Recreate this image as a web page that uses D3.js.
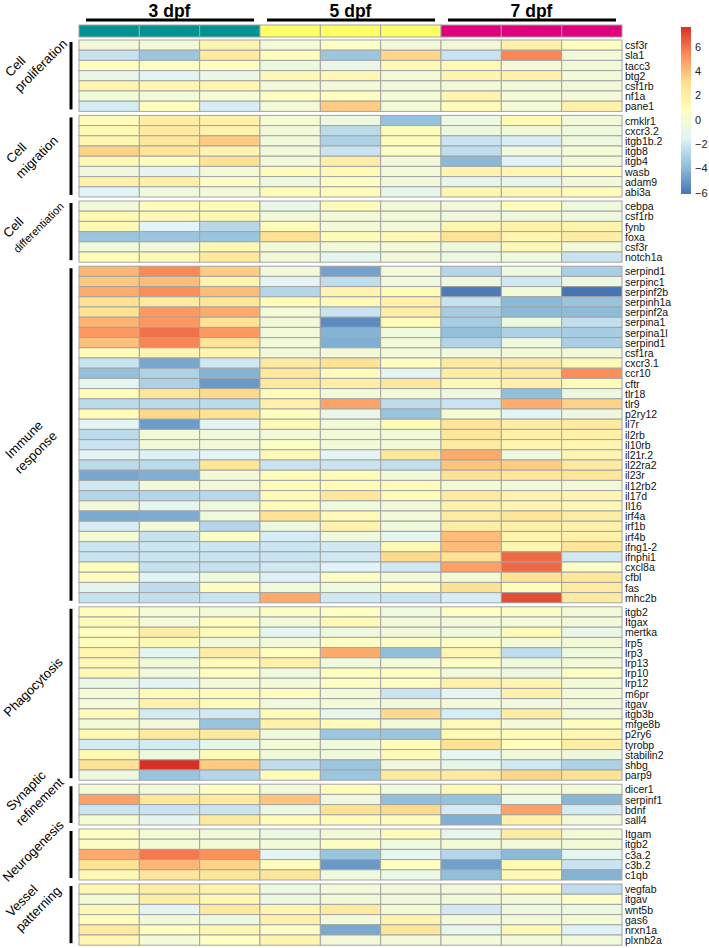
<!DOCTYPE html>
<html>
<head>
<meta charset="utf-8">
<script src="https://cdn.jsdelivr.net/npm/d3@7/dist/d3.min.js"></script>
<style>
  html, body { margin: 0; padding: 0; background: #fff; }
  svg { display: block; font-family: "Liberation Sans", Arial, sans-serif; }
</style>
</head>
<body>
<svg id="chart"></svg>
<script>
// ── Data ──────────────────────────────────────────────────────────────────────
// Columns: three replicates per stage. Values are row z-scores.
const stages  = ['3 dpf', '5 dpf', '7 dpf'];
const samples = ['3dpf_1', '3dpf_2', '3dpf_3', '5dpf_1', '5dpf_2', '5dpf_3', '7dpf_1', '7dpf_2', '7dpf_3'];
const sampleStage = ['3 dpf', '3 dpf', '3 dpf', '5 dpf', '5 dpf', '5 dpf', '7 dpf', '7 dpf', '7 dpf'];

const groupLabels = [
  ['Cell', 'proliferation'],
  ['Cell', 'migration'],
  ['Cell', 'differentiation'],
  ['Immune', 'response'],
  ['Phagocytosis'],
  ['Synaptic', 'refinement'],
  ['Neurogenesis'],
  ['Vessel', 'patterning'],
];

const proliferation = [
  ['csf3r',  [-0.3, -0.3,  1.5, -0.2,  0.5, -0.3, -0.3,  1.8,  0.7]],
  ['sla1',   [-2.3, -3.5,  2.3,  0.8, -3.5,  3.3, -2.2,  5.5, -0.3]],
  ['tacc3',  [ 0.8,  0.6,  0.8, -0.6, -0.9,  1.2,  1.2, -0.2, -0.2]],
  ['btg2',   [-0.9, -1.3, -0.9,  1.3,  1.3, -0.2,  1.5,  1.8, -0.2]],
  ['csf1rb', [ 1.6,  1.4,  1.5, -0.3, -0.3, -0.3, -0.3, -0.3, -0.3]],
  ['nf1a',   [-0.2, -0.2,  0.0,  0.7,  0.8, -0.1,  1.6, -0.2, -0.2]],
  ['pane1',  [-1.9,  0.8, -1.8, -0.2,  3.6, -0.2,  1.0, -0.2,  1.8]],
];

const migration = [
  ['cmklr1',   [ 1.0,  2.0,  1.8,  0.0, -0.5, -3.7, -0.6,  1.2, -0.3]],
  ['cxcr3.2',  [ 1.2,  2.2,  1.7, -0.3, -2.6,  1.0, -0.5, -0.3, -0.4]],
  ['itgb1b.2', [ 1.4,  2.5,  3.6, -0.3, -3.0,  1.0, -2.2, -1.8, -0.5]],
  ['itgb8',    [ 3.4,  2.6,  1.5, -0.3, -2.2,  0.6, -2.5, -0.4, -0.1]],
  ['itgb4',    [ 1.3,  0.8,  2.8, -0.3,  2.0, -0.3, -4.0, -1.5, -0.3]],
  ['wasb',     [-0.5, -1.2, -0.3,  1.0,  1.2, -0.2,  1.5,  1.4,  0.8]],
  ['adam9',    [ 1.8,  1.9,  0.5, -0.5,  0.6, -0.3, -1.0, -1.0, -0.3]],
  ['abi3a',    [-1.5, -0.4, -0.2,  1.0,  1.0, -1.0,  1.4,  1.4,  1.0]],
];

const differentiation = [
  ['cebpa',   [-0.2,  0.8,  1.0, -0.9,  1.0, -0.3, -0.3,  0.9, -0.4]],
  ['csf1rb',  [ 1.2,  1.2,  1.3, -0.3, -0.3, -0.3, -0.5, -0.5, -0.5]],
  ['fynb',    [ 1.2, -1.4, -2.7,  1.0, -0.2, -0.3,  1.5,  1.8,  1.6]],
  ['foxa',    [-3.5, -3.5, -3.6,  2.9,  1.0,  1.3,  2.8,  1.5,  2.0]],
  ['csf3r',   [-0.3, -0.3,  1.3, -0.2, -0.2, -0.2, -0.5,  1.2, -0.2]],
  ['notch1a', [ 1.0,  1.2,  2.4, -0.3, -1.2, -0.3, -0.5, -0.4, -2.2]],
];

const immune = [
  ['serpind1',  [ 4.2,  5.4,  3.6, -0.3, -4.7, -0.2, -2.8, -0.6, -3.1]],
  ['serpinc1',  [ 3.7,  4.0,  1.6, -1.3, -2.5, -0.4, -0.6, -2.0, -0.6]],
  ['serpinf2b', [ 4.5,  5.3,  4.0, -2.8,  1.5,  1.0, -5.9, -0.3, -6.1]],
  ['serpinh1a', [ 2.8,  2.2,  2.6,  1.0,  1.2,  1.8, -2.3, -4.0, -3.6]],
  ['serpinf2a', [ 2.8,  5.0,  4.5, -0.2, -2.2,  2.0, -3.2, -4.0, -3.9]],
  ['serpina1',  [ 4.3,  5.0,  2.8, -0.3, -5.4,  1.0, -3.2, -0.6, -2.4]],
  ['serpina1l', [ 5.0,  6.0,  5.0, -0.3, -4.2, -0.4, -3.8, -3.0, -3.2]],
  ['serpind1',  [ 3.9,  5.5,  2.8, -0.3, -4.3, -0.3, -2.9, -0.5, -3.1]],
  ['csf1ra',    [ 1.0,  1.5,  1.5, -0.3, -0.3, -0.3, -0.4, -0.3, -0.3]],
  ['cxcr3.1',   [-2.2, -4.6, -2.0,  2.2,  2.8,  0.8,  2.2,  2.2,  1.2]],
  ['ccr10',     [-3.8, -3.0, -4.2,  2.4,  1.0, -1.2,  2.0,  2.3,  5.3]],
  ['cftr',      [-1.2, -3.0, -5.0,  2.4,  2.0,  2.5,  1.2,  1.8,  1.0]],
  ['tlr18',     [ 1.0,  2.6,  3.2,  1.0, -0.3, -0.2, -0.5, -3.8, -0.5]],
  ['tlr9',      [-2.6, -2.6, -2.6,  1.8,  4.7, -2.5, -2.2,  4.4,  3.4]],
  ['p2ry12',    [ 1.0,  3.2,  2.8,  0.8, -0.9, -3.6,  0.0, -1.4, -0.5]],
  ['il7r',      [-1.3, -4.9, -1.3,  1.2, -0.2,  1.0,  2.6,  2.0,  2.2]],
  ['il2rb',     [-2.6, -0.3, -0.4, -0.2, -0.3, -0.3,  2.5,  1.8,  1.8]],
  ['il10rb',    [-2.2, -0.3, -0.3,  0.5, -0.2, -0.3,  2.2,  1.5,  1.5]],
  ['il21r.2',   [-1.3, -1.6, -1.4,  1.2, -1.3,  2.5,  4.5, -0.5,  1.5]],
  ['il22ra2',   [-2.6, -2.6,  2.6, -2.2, -2.2, -2.4,  3.8,  3.6,  2.2]],
  ['il23r',     [-4.6, -4.3, -0.3,  1.0,  1.0, -0.3,  2.9,  2.5,  2.6]],
  ['il12rb2',   [-2.0, -0.3, -0.3,  1.0,  1.0,  1.0, -0.1, -0.3, -0.3]],
  ['il17d',     [-2.8, -2.8, -2.7,  1.1,  2.5,  1.0,  2.2,  1.6,  1.5]],
  ['Il16',      [-0.3, -1.2, -0.4,  1.0, -0.4, -0.3,  1.7,  1.5,  1.3]],
  ['irf4a',     [-4.5, -4.4, -0.4,  2.8,  1.2, -0.3,  2.2,  2.6,  2.0]],
  ['irf1b',     [-1.8, -0.3, -2.8, -0.5,  1.6, -0.4,  2.0,  1.8,  1.8]],
  ['irf4b',     [ 0.0, -2.3,  0.5, -1.8, -0.4, -1.1,  4.0,  1.6,  1.8]],
  ['ifng1-2',   [-2.1, -2.1, -2.1, -2.1, -2.0,  1.2,  4.0,  1.5,  2.7]],
  ['ifnphi1',   [-2.2, -2.2, -2.2, -2.2, -2.0,  3.2,  2.8,  6.2, -2.0]],
  ['cxcl8a',    [ 0.8, -2.3, -2.3, -2.0, -1.5, -2.0,  4.8,  6.2,  0.5]],
  ['cfbl',      [ 0.8, -1.5, -0.4, -1.6,  0.6, -0.3, -0.1,  2.8,  2.5]],
  ['fas',       [-1.1, -2.5,  0.8, -0.4, -0.4,  0.8,  2.9,  0.9,  2.2]],
  ['mhc2b',     [-2.3, -2.4, -2.2,  4.5, -2.0, -2.2, -1.8,  6.9,  2.2]],
];

const phagocytosis = [
  ['itgb2',     [ 0.8,  0.0, -0.1,  0.5,  0.7, -0.4,  0.7,  0.5, -0.2]],
  ['Itgax',     [ 1.1, -0.2,  0.8, -0.3,  1.2, -0.3, -0.3, -0.2, -0.3]],
  ['mertka',    [ 0.8,  2.0,  1.0, -1.2, -0.5, -0.3, -0.4,  1.0, -0.9]],
  ['lrp5',      [ 1.0,  1.3, -0.3, -0.2,  0.6,  0.5,  0.6, -0.2, -0.3]],
  ['lrp3',      [ 1.5, -1.3,  2.0,  0.8,  4.5, -3.8,  1.4, -2.5, -0.4]],
  ['lrp13',     [ 1.3, -0.3,  1.0,  1.8, -0.4, -0.2,  0.6, -0.4, -0.3]],
  ['lrp10',     [ 1.2, -0.4,  0.8, -0.4,  0.8,  0.6, -0.3, -0.5,  0.6]],
  ['lrp12',     [-0.8, -1.3, -0.2, -0.1,  0.6,  0.8,  1.8,  1.5, -0.1]],
  ['m6pr',      [ 0.0,  1.0,  1.0,  0.8, -0.3, -2.2, -1.2,  1.8, -0.2]],
  ['itgav',     [-0.2,  1.8,  1.0, -0.4, -0.2, -0.3, -0.2, -0.4, -0.3]],
  ['itgb3b',    [ 1.1, -1.9, -2.0,  1.0, -1.0,  3.2, -1.8,  2.0, -0.3]],
  ['mfge8b',    [-0.1, -0.3, -3.6,  1.8,  1.0, -0.3,  1.2, -0.2,  0.8]],
  ['p2ry6',     [ 1.2,  2.3,  2.3, -0.4, -3.5, -3.5,  1.2,  1.0,  1.3]],
  ['tyrobp',    [-1.9, -1.9, -1.0, -0.2, -0.4,  1.0,  2.8,  0.8,  2.0]],
  ['stabilin2', [ 1.2, -0.5,  1.0, -0.3, -0.4,  1.0, -1.2, -0.3, -0.5]],
  ['shbg',      [ 2.8,  7.6,  3.6, -2.5, -3.5, -0.5, -1.0, -2.0, -3.0]],
  ['parp9',     [-0.6, -3.6, -2.8,  1.0, -3.5,  2.2,  2.2,  3.3,  2.8]],
];

const synaptic = [
  ['dicer1',   [-0.1, -0.3,  0.7, -0.3,  1.0, -0.4,  1.2,  0.0, -0.2]],
  ['serpinf1', [ 4.8,  2.5,  2.4,  3.8, -0.5, -3.8, -3.7, -0.6, -4.1]],
  ['bdnf',     [-2.1, -2.2, -2.2, -0.6,  2.9,  3.2, -1.9,  4.8, -1.9]],
  ['sall4',    [ 0.0, -1.1,  2.3,  1.0,  1.0,  1.0, -4.3,  1.8, -0.3]],
];

const neurogenesis = [
  ['Itgam', [ 0.7, -0.1, -0.3, -0.6, -0.3,  1.0, -1.0,  2.0, -0.1]],
  ['itgb2', [ 0.6, -0.2, -0.1, -0.2,  0.6, -0.4, -0.1, -0.3, -0.2]],
  ['c3a.2', [ 4.5,  5.8,  5.2, -1.3, -3.6, -1.2, -2.8, -4.0, -1.2]],
  ['c3b.2', [ 2.8,  4.2,  3.4,  0.9, -5.0,  0.8, -4.8,  1.2, -2.2]],
  ['c1qb',  [ 1.2,  2.5,  2.6,  2.6, -0.4, -0.8, -3.8,  1.2, -4.2]],
];

const vessel = [
  ['vegfab',  [ 1.3,  2.0,  1.6, -0.6, -0.2, -0.3, -0.3,  1.0, -2.5]],
  ['itgav',   [-0.1,  1.9,  1.3, -0.6, -0.3, -0.3, -0.3, -0.2,  0.5]],
  ['wnt5b',   [ 1.3, -1.3,  2.4,  1.5,  2.2, -0.1, -2.0, -0.5, -0.6]],
  ['gas6',    [ 1.0, -0.3, -0.5,  1.8, -0.2,  1.6, -0.3, -0.3, -0.1]],
  ['nrxn1a',  [ 2.4,  0.8,  1.4,  0.6, -4.5,  2.6, -1.0,  1.3, -1.6]],
  ['plxnb2a', [ 1.4, -0.1,  0.7,  1.5, -0.3, -0.2, -0.2, -0.2, -0.3]],
];

const groupRows = [proliferation, migration, differentiation, immune,
                   phagocytosis, synaptic, neurogenesis, vessel];

const legendTicks = [-6, -4, -2, 0, 2, 4, 6];

// ── Styles / layout ───────────────────────────────────────────────────────────
const WIDTH = 709, HEIGHT = 948;
const X0 = 79, X1 = 622;          // heatmap left / right
const TOP = 40;                    // first row
const ROW_H = 10.2, GAP = 4;       // cell height, gap between gene sets
const BORDER = '#a4a4a4';
const RAMP = ['#4575b4', '#91bfdb', '#e0f3f8', '#ffffbf', '#fee090', '#fc8d59', '#d73027'];
const STAGE_COLORS = { '3 dpf': '#009191', '5 dpf': '#ffff66', '7 dpf': '#df007d' };
const FONT = '"Liberation Sans", Arial, sans-serif';
const LABEL_SIZE = 13, LINE_GAP = 17.5, LINE_INDENT = 4;
// the long word is set smaller so it stops short of the bracket
const LABEL_SIZE_SMALL = { differentiation: 11 };
// start of the last label line: [x, offset from the block's vertical centre]
const LABEL_ANCHOR = [[20, 17], [21, 23], [18, 22], [20, 40], [9, 24], [21, 22], [8, 28], [21, 18]];

// ── Scales ────────────────────────────────────────────────────────────────────
const allValues = groupRows.flatMap(rows => rows.flatMap(r => r[1]));
const [vmin, vmax] = d3.extent(allValues);

const color = d3.scaleLinear()
  .domain(RAMP.map((_, i) => vmin + i * (vmax - vmin) / (RAMP.length - 1)))
  .range(RAMP)
  .interpolate(d3.interpolateRgb);

const x = d3.scaleBand().domain(samples).range([X0, X1]).paddingInner(0);

const svg = d3.select('#chart')
  .attr('width', WIDTH)
  .attr('height', HEIGHT)
  .attr('viewBox', `0 0 ${WIDTH} ${HEIGHT}`);

// ── Stage titles + bars ───────────────────────────────────────────────────────
const stageG = svg.append('g').attr('class', 'stages');
stages.forEach(s => {
  const cols = samples.filter((_, i) => sampleStage[i] === s);
  const left = x(cols[0]);
  const right = x(cols[cols.length - 1]) + x.bandwidth();
  stageG.append('text')
    .attr('x', (left + right) / 2)
    .attr('y', 16.5)
    .attr('text-anchor', 'middle')
    .attr('font-size', 17.5)
    .attr('font-weight', 'bold')
    .attr('fill', '#000')
    .text(s);
  stageG.append('line')
    .attr('x1', left + 7).attr('x2', right - 6)
    .attr('y1', 20).attr('y2', 20)
    .attr('stroke', '#000')
    .attr('stroke-width', 3);
});

// Annotation strip
svg.append('g').attr('class', 'annotation')
  .selectAll('rect')
  .data(samples)
  .join('rect')
    .attr('x', d => x(d))
    .attr('y', 25)
    .attr('width', x.bandwidth())
    .attr('height', 12)
    .attr('fill', (d, i) => STAGE_COLORS[sampleStage[i]])
    .attr('stroke', BORDER)
    .attr('stroke-width', 1);

// ── Heatmap blocks ────────────────────────────────────────────────────────────
let yTop = TOP;
groupRows.forEach((rows, gi) => {
  const y = d3.scaleBand()
    .domain(d3.range(rows.length))
    .range([yTop, yTop + rows.length * ROW_H]);

  const g = svg.append('g').attr('class', 'block');

  g.selectAll('g.row')
    .data(rows)
    .join('g')
      .attr('class', 'row')
    .each(function ([gene, vals], ri) {
      d3.select(this).selectAll('rect')
        .data(vals)
        .join('rect')
          .attr('x', (v, ci) => x(samples[ci]))
          .attr('y', y(ri))
          .attr('width', x.bandwidth())
          .attr('height', y.bandwidth())
          .attr('fill', v => color(v))
          .attr('stroke', BORDER)
          .attr('stroke-width', 1);
    });

  // gene names
  g.selectAll('text.gene')
    .data(rows)
    .join('text')
      .attr('class', 'gene')
      .attr('x', X1 + 3)
      .attr('y', (d, i) => y(i) + y.bandwidth() / 2)
      .attr('dominant-baseline', 'central')
      .attr('font-size', 10.5)
      .attr('fill', '#111')
      .text(d => d[0]);

  // vertical bracket
  const yBottom = yTop + rows.length * ROW_H;
  g.append('line')
    .attr('x1', 71).attr('x2', 71)
    .attr('y1', yTop + 2).attr('y2', yBottom - 2)
    .attr('stroke', '#000')
    .attr('stroke-width', 3);

  // rotated group label, lines stacked up-left of the last one
  const lines = groupLabels[gi];
  const [ax, ady] = LABEL_ANCHOR[gi];
  const lab = g.append('text')
    .attr('transform', `translate(${ax},${(yTop + yBottom) / 2 + ady}) rotate(-45)`)
    .attr('font-size', LABEL_SIZE)
    .attr('fill', '#000');
  lines.forEach((t, li) => {
    const fromLast = lines.length - 1 - li;
    lab.append('tspan')
      .attr('x', fromLast * LINE_INDENT)
      .attr('y', -fromLast * LINE_GAP)
      .attr('font-size', LABEL_SIZE_SMALL[t] ?? LABEL_SIZE)
      .text(t);
  });

  yTop = yBottom + GAP;
});

// ── Colour legend ─────────────────────────────────────────────────────────────
const LEG_X = 681, LEG_W = 10, LEG_TOP = 27, LEG_BOT = 194;
const legY = d3.scaleLinear().domain([vmin, vmax]).range([LEG_BOT, LEG_TOP]);

const grad = svg.append('defs').append('linearGradient')
  .attr('id', 'legend-grad')
  .attr('x1', 0).attr('y1', 1).attr('x2', 0).attr('y2', 0);
grad.selectAll('stop')
  .data(RAMP)
  .join('stop')
    .attr('offset', (d, i) => i / (RAMP.length - 1))
    .attr('stop-color', d => d);

svg.append('rect')
  .attr('x', LEG_X).attr('y', LEG_TOP)
  .attr('width', LEG_W).attr('height', LEG_BOT - LEG_TOP)
  .attr('fill', 'url(#legend-grad)');

const legAxis = svg.append('g')
  .attr('transform', `translate(${LEG_X + LEG_W},0)`)
  .call(d3.axisRight(legY).tickValues(legendTicks).tickSize(0).tickPadding(4));
legAxis.select('.domain').remove();
legAxis.selectAll('text')
  .attr('font-family', FONT)
  .attr('font-size', 11)
  .attr('fill', '#222');
</script>
</body>
</html>
